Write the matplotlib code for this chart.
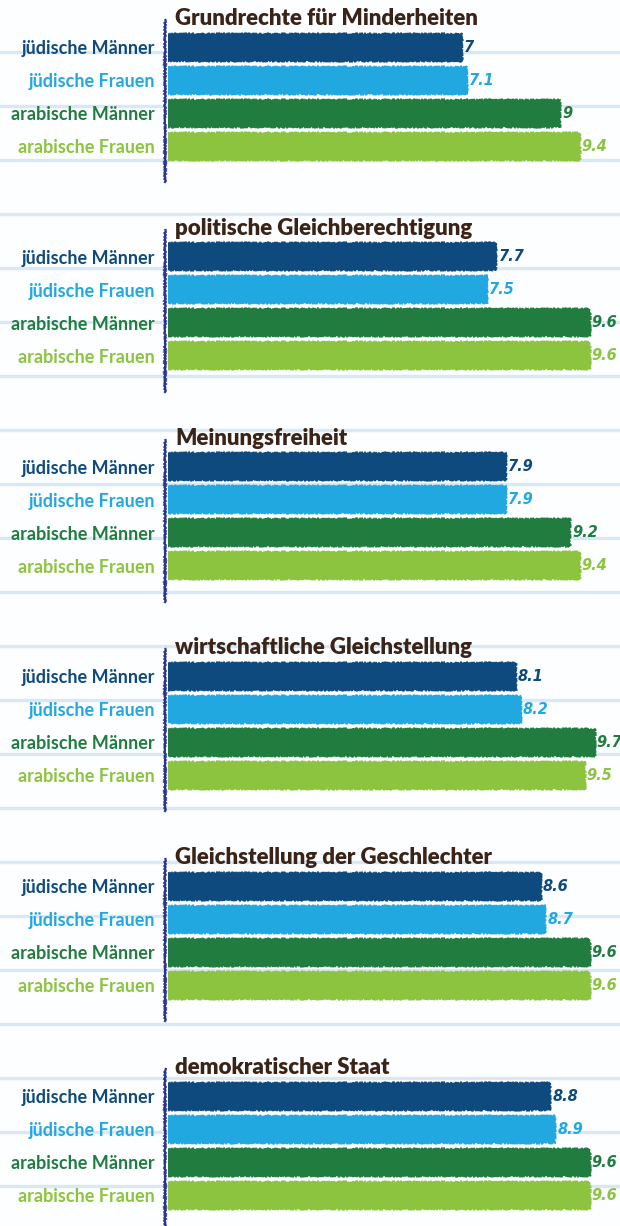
import numpy as np
import matplotlib
matplotlib.use("Agg")
import matplotlib.pyplot as plt
import matplotlib.transforms as mtransforms

# survey items and respondent groups
titles = [
    "Grundrechte für Minderheiten",
    "politische Gleichberechtigung",
    "Meinungsfreiheit",
    "wirtschaftliche Gleichstellung",
    "Gleichstellung der Geschlechter",
    "demokratischer Staat",
]
groups = ["jüdische Männer", "jüdische Frauen", "arabische Männer", "arabische Frauen"]

# mean importance on a 1-10 scale
jued_maenner = [7.0, 7.7, 7.9, 8.1, 8.6, 8.8]
jued_frauen = [7.1, 7.5, 7.9, 8.2, 8.7, 8.9]
arab_maenner = [9.0, 9.6, 9.2, 9.7, 9.6, 9.6]
arab_frauen = [9.4, 9.6, 9.4, 9.5, 9.6, 9.6]

colors = ["#0e4a7e", "#22a8e1", "#217c3f", "#8cc43f"]
title_color = "#3a2418"
axis_color = "#2b3590"
rule_color = "#d9e8f5"

W, H = 620, 1226
fig = plt.figure(figsize=(W / 100, H / 100), dpi=100)
fig.patch.set_facecolor("#fdfeff")

# notebook rules behind everything
bg = fig.add_axes([0, 0, 1, 1], zorder=0)
bg.set_xlim(0, W)
bg.set_ylim(H, 0)
bg.axis("off")
for y in np.arange(52, H, 54):
    bg.axhline(y, color=rule_color, lw=2.4)

label_font = "Lato"
value_font = ["Liberation Sans Narrow", "DejaVu Sans"]
ax_left = 168
panel_gap = 209.8

for i, title in enumerate(titles):
    vals = [jued_maenner[i], jued_frauen[i], arab_maenner[i], arab_frauen[i]]
    y0 = 47 + panel_gap * i          # centre of first bar, pixels from top
    top, bottom = y0 - 27, y0 + 135
    ax = fig.add_axes([ax_left / W, 1 - bottom / H, (W - ax_left) / W, (bottom - top) / H], zorder=1)
    ax.patch.set_alpha(0)
    ax.set_xlim(1, 10.22)
    ax.set_ylim(4.09, -0.82)

    bars = ax.barh(range(4), [v - 1 for v in vals], left=1, height=0.82,
                   color=colors, edgecolor=colors, linewidth=1.2)
    for b in bars:
        b.set_sketch_params(scale=0.9, length=2, randomness=2)

    for j, v in enumerate(vals):
        ax.text(v + 0.04, j, f"{v:g}", color=colors[j], fontsize=10.5,
                fontweight="bold", fontstyle="italic", family=value_font,
                va="center", ha="left")

    trans = mtransforms.blended_transform_factory(ax.transAxes, ax.transData)
    for j, g in enumerate(groups):
        ax.text(-13 / (W - ax_left), j, g, transform=trans, color=colors[j],
                fontsize=13, fontweight="bold", family=label_font,
                ha="right", va="center_baseline")

    fig.text(175 / W, 1 - (y0 - 22) / H, title, color=title_color, fontsize=16,
             fontweight="heavy", family=label_font, ha="left", va="baseline")

    for s in ["top", "right", "bottom"]:
        ax.spines[s].set_visible(False)
    ax.spines["left"].set_color(axis_color)
    ax.spines["left"].set_linewidth(1.6)
    ax.spines["left"].set_position(("data", 0.94))
    ax.spines["left"].set_sketch_params(scale=0.8, length=3, randomness=2)
    ax.set_xticks([])
    ax.set_yticks([])

fig.savefig("out.png", dpi=100, facecolor=fig.get_facecolor())
